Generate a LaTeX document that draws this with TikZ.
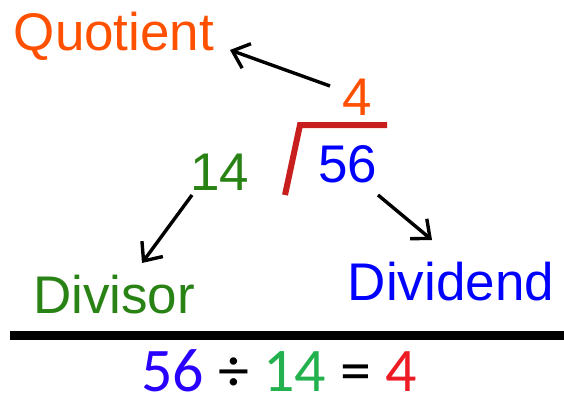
\documentclass[tikz,border=0pt]{standalone}
\usepackage{fontspec}
\setmainfont{Liberation Sans}
\newfontfamily\eqfont{Carlito}
\usetikzlibrary{arrows.meta}
\definecolor{quotorange}{RGB}{255,80,0}
\definecolor{barred}{RGB}{200,30,30}
\definecolor{divgreen}{RGB}{40,130,20}
\definecolor{dvdblue}{RGB}{0,0,255}
\definecolor{eqblue}{RGB}{40,0,255}
\definecolor{eqgreen}{RGB}{34,177,76}
\definecolor{eqred}{RGB}{237,28,36}

\begin{document}
\begin{tikzpicture}[x=1pt,y=-1pt,
  every node/.style={inner sep=0pt,anchor=base,font=\fontsize{53}{60}\selectfont},
  arr/.style={line width=3.4pt,-{Straight Barb[length=15pt,width=26pt]}}]
  \useasboundingbox (0,0) rectangle (564,396);

  \node[quotorange] (quot) at (114,50) {Quotient};
  \node[quotorange] (qfour) at (357,115) {4};
  \node[dvdblue] (fiftysix) at (348,182) {56};
  \node[divgreen] (fourteen) at (220,190) {14};
  \node[divgreen] (divisor) at (114,313) {Divisor};
  \node[dvdblue] (dividend) at (451,300) {Dividend};

  % division bracket
  \draw[barred,line width=6pt,miter limit=10]
    ([shift={(-63,13)}]fiftysix.base) -- ([shift={(-48,-57)}]fiftysix.base)
    -- ([shift={(39,-57)}]fiftysix.base);

  \draw[arr] ([shift={(-27,-29)}]qfour.base) -- ([shift={(116,0)}]quot.base);
  \draw[arr] ([shift={(-28,5)}]fourteen.base) -- ([shift={(28,-50)}]divisor.base);
  \draw[arr] ([shift={(30,13)}]fiftysix.base) -- ([shift={(-19,-60)}]dividend.base);

  \draw[line width=9pt] (10,335) -- (564,335);

  \node[font=\eqfont\fontsize{62}{70}\selectfont] (eqn) at (279,391)
    {\textcolor{eqblue}{56} ÷ \textcolor{eqgreen}{14} = \textcolor{eqred}{4}};
\end{tikzpicture}
\end{document}
